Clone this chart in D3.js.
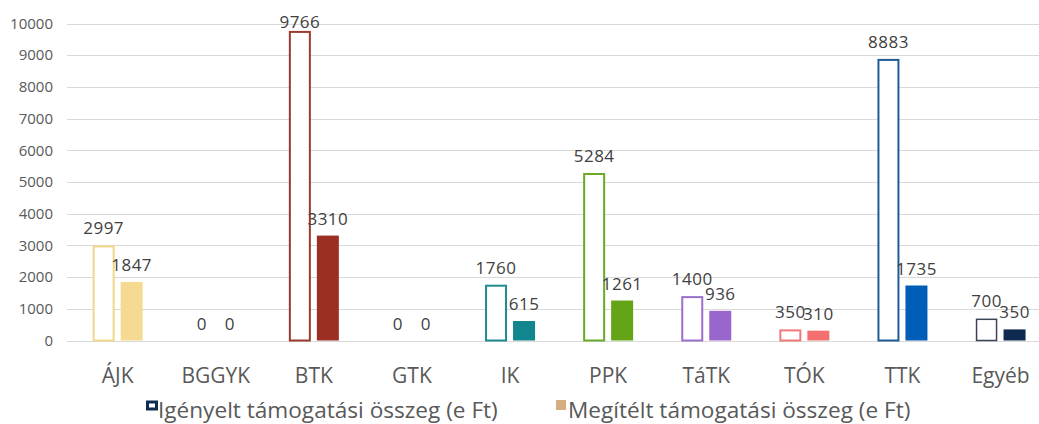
<!DOCTYPE html>
<html lang="hu">
<head>
<meta charset="UTF-8">
<title>Igényelt és megítélt támogatási összeg</title>
<script src="https://cdn.jsdelivr.net/npm/d3@7"></script>
<style>
body { margin: 0; background: #fff; }
svg { display: block; font-family: 'Open Sans', sans-serif; }
.grid line { stroke: #d9d9d9; stroke-width: 1; }
.tick-label { fill: #595959; font-size: 15px; }
.cat-label { fill: #595959; font-size: 21px; }
.val-label { fill: #404040; font-size: 17px; letter-spacing: 0.5px; }
.legend text { fill: #595959; font-size: 22.6px; }
</style>
</head>
<body>
<svg id="chart" width="1039" height="424"></svg>
<script>
// data
var categories = ["ÁJK", "BGGYK", "BTK", "GTK", "IK", "PPK", "TáTK", "TÓK", "TTK", "Egyéb"];
var requested = [2997, 0, 9766, 0, 1760, 5284, 1400, 350, 8883, 700];
var granted   = [1847, 0, 3310, 0, 615, 1261, 936, 310, 1735, 350];
var seriesNames = ["Igényelt támogatási összeg (e Ft)", "Megítélt támogatási összeg (e Ft)"];
var yTicks = [0, 1000, 2000, 3000, 4000, 5000, 6000, 7000, 8000, 9000, 10000];

// per-faculty colours (outline, fill)
var lineColors = ["#f0d78b", "#9b3b30", "#9b3b30", "#9b3b30", "#1f8a90", "#6aaa28", "#9a70cc", "#f07a7a", "#1f5b94", "#3b4456"];
var fillColors = ["#f5da92", "#9b2f22", "#9b2f22", "#9b2f22", "#12868f", "#63a516", "#9966cc", "#f47070", "#005eb8", "#0e2a50"];

var svg = d3.select("#chart");
var plotLeft = 67, plotTop = 23.5, plotBottom = 340.5;

var x = d3.scaleBand().domain(categories).range([68.6, 1049.6]);
var x1 = d3.scaleBand().domain([0, 1]).range([-25, 25]).paddingInner(6 / 28);
var y = d3.scaleLinear().domain([0, 10000]).range([plotBottom, plotTop]);

// gridlines
svg.append("g").attr("class", "grid")
  .selectAll("line").data(yTicks).enter().append("line")
  .attr("x1", plotLeft).attr("x2", 1039)
  .attr("y1", function (d) { return Math.round(y(d)) + 0.5; })
  .attr("y2", function (d) { return Math.round(y(d)) + 0.5; });

svg.append("g").selectAll("text").data(yTicks).enter().append("text")
  .attr("class", "tick-label")
  .attr("x", 53).attr("y", function (d) { return y(d); })
  .attr("dy", "0.35em").attr("text-anchor", "end")
  .text(function (d) { return d; });

var rows = categories.map(function (c, i) {
  return { cat: c, i: i, vals: [requested[i], granted[i]] };
});

var groups = svg.append("g").selectAll("g").data(rows).enter().append("g")
  .attr("transform", function (d) { return "translate(" + (x(d.cat) + x.bandwidth() / 2) + ",0)"; });

// requested: outlined bars
groups.filter(function (d) { return d.vals[0] > 0; }).append("rect")
  .attr("x", x1(0) + 1).attr("width", x1.bandwidth() - 2)
  .attr("y", function (d) { return y(d.vals[0]) + 1; })
  .attr("height", function (d) { return plotBottom - y(d.vals[0]) - 1; })
  .attr("fill", "#fff")
  .attr("stroke", function (d) { return lineColors[d.i]; })
  .attr("stroke-width", function (d) { return d.i === 9 ? 1.5 : 2; });

// granted: filled bars
groups.filter(function (d) { return d.vals[1] > 0; }).append("rect")
  .attr("x", x1(1)).attr("width", x1.bandwidth())
  .attr("y", function (d) { return y(d.vals[1]); })
  .attr("height", function (d) { return plotBottom - y(d.vals[1]); })
  .attr("fill", function (d) { return fillColors[d.i]; });

// value labels
[0, 1].forEach(function (s) {
  groups.append("text").attr("class", "val-label")
    .attr("text-anchor", "middle")
    .attr("x", x1(s) + x1.bandwidth() / 2)
    .attr("y", function (d) { return Math.max(28, y(d.vals[s]) - 11); })
    .text(function (d) { return d.vals[s]; });
});

// category labels
svg.append("g").selectAll("text").data(categories).enter().append("text")
  .attr("class", "cat-label").attr("text-anchor", "middle")
  .attr("x", function (d) { return x(d) + x.bandwidth() / 2; })
  .attr("y", 383)
  .text(function (d) { return d; });

// legend
var legend = svg.append("g").attr("class", "legend");
legend.append("rect").attr("x", 147.5).attr("y", 402).attr("width", 9).attr("height", 7)
  .attr("fill", "#fff").attr("stroke", "#0f2d52").attr("stroke-width", 3);
legend.append("text").attr("x", 158).attr("y", 418).text(seriesNames[0]);
legend.append("rect").attr("x", 556).attr("y", 400).attr("width", 10).attr("height", 10)
  .attr("fill", "#d4af80");
legend.append("text").attr("x", 568).attr("y", 418).text(seriesNames[1]);
</script>
</body>
</html>
